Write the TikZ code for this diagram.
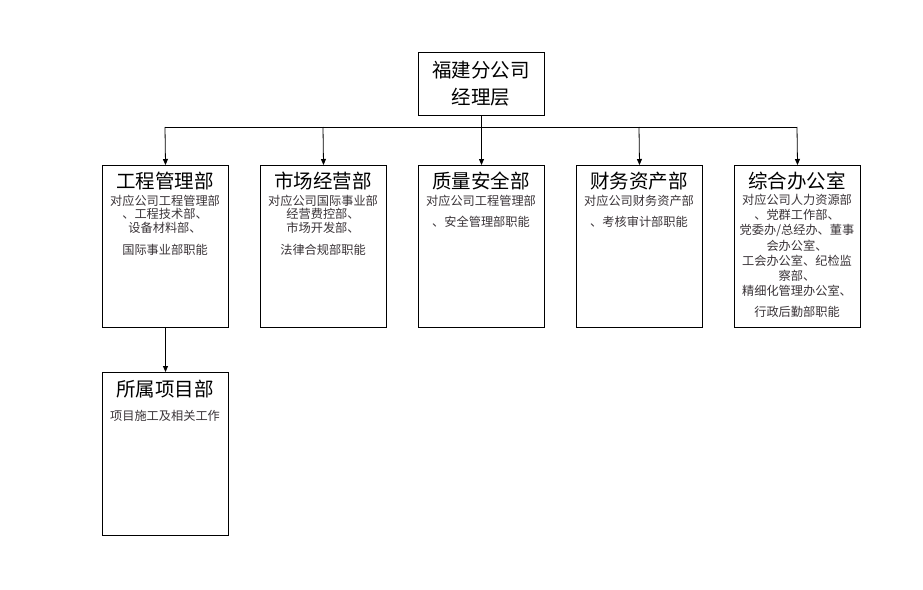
\documentclass[tikz,border=0pt]{standalone}
\usepackage{fontspec}
\newfontfamily\cjk{Noto Sans CJK SC}
\usetikzlibrary{arrows.meta}
\definecolor{bodytxt}{HTML}{3A3438}
\tikzset{
  box/.style={draw=black, line width=1pt, minimum width=126pt, inner sep=0pt, anchor=north west},
  title/.style={font=\cjk\fontsize{19.5}{22}\selectfont, text=black, inner sep=0pt},
  body/.style={font=\cjk\fontsize{12.2}{13.6}\selectfont, text=bodytxt, align=center, inner sep=0pt, anchor=north},
  conn/.style={line width=0.8pt, -{Triangle[length=6pt,width=5pt]}},
  plain/.style={line width=0.8pt}
}
\begin{document}
\begin{tikzpicture}[x=1pt,y=-1pt]
\useasboundingbox[fill=white] (0,0) rectangle (923,589);
% top box
\node[box, minimum width=126pt, minimum height=63pt] (top) at (418,52) {};
\node[title, align=center, font=\cjk\fontsize{19.5}{27}\selectfont] (toptxt) at (481,83.5) {福建分公司\\经理层};
% department boxes
\node[box, minimum height=162pt] (d1) at (102,165) {};
\node[box, minimum height=162pt] (d2) at (260,165) {};
\node[box, minimum height=162pt] (d3) at (418,165) {};
\node[box, minimum height=162pt] (d4) at (576,165) {};
\node[box, minimum height=162pt] (d5) at (734,165) {};
\node[box, minimum height=163pt] (p1) at (102,372) {};
% titles
\node[title] (t1) at (165,181) {工程管理部};
\node[title] (t2) at (323,181) {市场经营部};
\node[title] (t3) at (481,181) {质量安全部};
\node[title] (t4) at (639,181) {财务资产部};
\node[title] (t5) at (797,181) {综合办公室};
\node[title] (t6) at (165,389) {所属项目部};
% bodies
\node[body] (b1) at (165,194.5) {对应公司工程管理部\\、工程技术部、\\设备材料部、\\[9pt]国际事业部职能};
\node[body] (b2) at (323,194.5) {对应公司国际事业部\\经营费控部、\\市场开发部、\\[9pt]法律合规部职能};
\node[body] (b3) at (481,194.5) {对应公司工程管理部\\[8pt]、安全管理部职能};
\node[body] (b4) at (639,194.5) {对应公司财务资产部\\[8pt]、考核审计部职能};
\node[body, font=\cjk\fontsize{12.2}{15.2}\selectfont] (b5) at (797,194) {对应公司人力资源部\\、党群工作部、\\党委办/总经办、董事\\会办公室、\\工会办公室、纪检监\\察部、\\精细化管理办公室、\\[6pt]行政后勤部职能};
\node[body] (b6) at (165,410) {项目施工及相关工作};
% connectors
\coordinate (hl) at (165,127);
\coordinate (hr) at (797,127);
\draw[plain] (hl) -- (hr);
\draw[conn] (top.south) -- (d3.north);
\draw[conn] (hl) -- (d1.north);
\draw[conn] (323,127) -- (d2.north);
\draw[conn] (639,127) -- (d4.north);
\draw[conn] (hr) -- (d5.north);
\draw[conn] (d1.south) -- (p1.north);
\end{tikzpicture}
\end{document}
